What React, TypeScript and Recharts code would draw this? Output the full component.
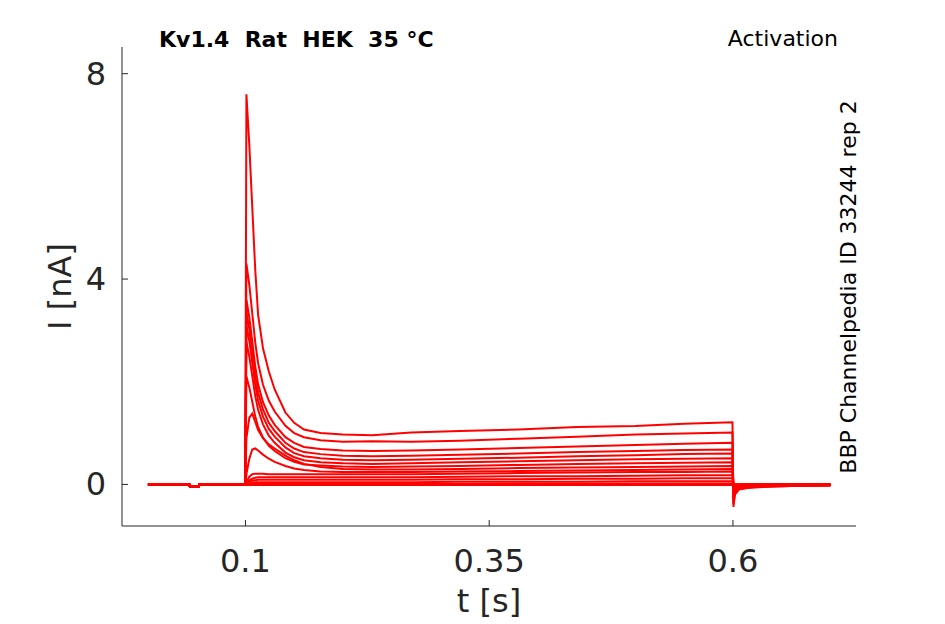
import { LineChart, Line, XAxis, YAxis } from "recharts";

// ── Data ──────────────────────────────────────────────────────────────────────

// sample times [s]; first six points are the holding period before the step
const TIMES = [
  0, 0.0425, 0.043, 0.052, 0.0525, 0.0998,
  0.101, 0.104, 0.107, 0.11, 0.113, 0.118, 0.124, 0.13, 0.141, 0.15, 0.16,
  0.177, 0.2, 0.23, 0.27, 0.32, 0.38, 0.44, 0.5, 0.55, 0.5995,
  0.6005, 0.602, 0.606, 0.615, 0.63, 0.66, 0.7,
];

// current [nA] during the holding period (same for every sweep)
const HOLDING = [0, 0, -0.04, -0.04, 0, 0];

// current [nA] from the step onset (t = 0.101) to the end, one array per sweep
const SWEEP_A = [7.6, 6.6, 5.4, 4.2, 3.3, 2.65, 2.2, 1.85, 1.4, 1.2, 1.07, 1.0, 0.97, 0.96, 1.01, 1.04, 1.07, 1.12, 1.14, 1.18, 1.21, -0.44, -0.2, -0.1, -0.07, -0.05, -0.03, -0.02];
const SWEEP_B = [4.3, 3.88, 3.33, 2.77, 2.36, 1.94, 1.63, 1.42, 1.14, 1.0, 0.92, 0.86, 0.83, 0.84, 0.83, 0.85, 0.89, 0.93, 0.97, 0.99, 1.01, -0.38, -0.18, -0.09, -0.06, -0.04, -0.03, -0.02];
const SWEEP_C = [3.6, 3.25, 2.78, 2.31, 1.95, 1.6, 1.34, 1.16, 0.92, 0.81, 0.73, 0.69, 0.66, 0.65, 0.66, 0.68, 0.71, 0.74, 0.77, 0.79, 0.81, -0.3, -0.15, -0.08, -0.05, -0.04, -0.02, -0.02];
const SWEEP_D = [3.36, 3.02, 2.58, 2.13, 1.79, 1.46, 1.2, 1.04, 0.81, 0.7, 0.63, 0.59, 0.56, 0.55, 0.56, 0.58, 0.6, 0.63, 0.65, 0.67, 0.68, -0.25, -0.12, -0.07, -0.04, -0.03, -0.02, -0.01];
const SWEEP_E = [3.1, 2.79, 2.37, 1.95, 1.63, 1.32, 1.08, 0.93, 0.72, 0.61, 0.55, 0.51, 0.48, 0.47, 0.48, 0.5, 0.52, 0.55, 0.57, 0.59, 0.6, -0.2, -0.1, -0.06, -0.04, -0.03, -0.02, -0.01];
const SWEEP_F = [2.77, 2.49, 2.11, 1.73, 1.45, 1.17, 0.95, 0.81, 0.62, 0.53, 0.47, 0.43, 0.41, 0.4, 0.41, 0.43, 0.45, 0.47, 0.49, 0.5, 0.51, -0.16, -0.08, -0.05, -0.03, -0.02, -0.01, -0.01];
const SWEEP_G = [2.1, 1.89, 1.61, 1.33, 1.12, 0.91, 0.75, 0.65, 0.51, 0.44, 0.39, 0.37, 0.35, 0.34, 0.35, 0.36, 0.38, 0.4, 0.41, 0.42, 0.43, -0.12, -0.06, -0.04, -0.02, -0.02, -0.01, -0.01];
const SWEEP_H = [0.9, 1.3, 1.38, 1.22, 1.06, 0.9, 0.78, 0.7, 0.56, 0.47, 0.4, 0.34, 0.3, 0.29, 0.29, 0.3, 0.32, 0.33, 0.34, 0.35, 0.36, -0.09, -0.05, -0.03, -0.02, -0.01, -0.01, 0];
const SWEEP_I = [0.2, 0.5, 0.68, 0.7, 0.66, 0.58, 0.5, 0.44, 0.36, 0.31, 0.28, 0.25, 0.24, 0.24, 0.24, 0.25, 0.26, 0.27, 0.28, 0.29, 0.3, -0.07, -0.04, -0.02, -0.01, -0.01, 0, 0];
const SWEEP_J = [0.05, 0.15, 0.2, 0.21, 0.21, 0.21, 0.2, 0.2, 0.2, 0.2, 0.2, 0.2, 0.2, 0.2, 0.2, 0.21, 0.22, 0.23, 0.24, 0.24, 0.25, -0.05, -0.03, -0.02, -0.01, 0, 0, 0];
const SWEEP_K = [0.03, 0.08, 0.11, 0.13, 0.14, 0.14, 0.14, 0.14, 0.14, 0.14, 0.14, 0.14, 0.14, 0.14, 0.14, 0.15, 0.16, 0.16, 0.17, 0.18, 0.18, -0.03, -0.02, -0.01, 0, 0, 0, 0];
const SWEEP_L = [0.02, 0.05, 0.07, 0.08, 0.09, 0.09, 0.09, 0.09, 0.09, 0.09, 0.09, 0.09, 0.09, 0.09, 0.09, 0.1, 0.1, 0.11, 0.11, 0.12, 0.12, -0.02, -0.01, 0, 0, 0, 0, 0];
const SWEEP_M = [0.01, 0.02, 0.03, 0.04, 0.04, 0.04, 0.04, 0.04, 0.04, 0.04, 0.04, 0.04, 0.04, 0.04, 0.04, 0.05, 0.05, 0.05, 0.06, 0.06, 0.06, -0.02, -0.01, 0, 0, 0, 0, 0];
const SWEEP_N = [0, 0.01, 0.01, 0.01, 0.01, 0.01, 0.01, 0.01, 0.01, 0.01, 0.01, 0.01, 0.01, 0.01, 0.01, 0.01, 0.02, 0.02, 0.02, 0.02, 0.02, -0.01, 0, 0, 0, 0, 0, 0];
const SWEEP_O = [0, 0, 0, 0, 0, 0, 0, 0, 0, 0, 0, 0, 0, 0, 0, 0, 0, 0, 0, 0, 0, -0.01, 0, 0, 0, 0, 0, 0];
const SWEEP_P = [-0.01, -0.01, -0.01, -0.01, -0.01, -0.01, -0.01, -0.01, -0.01, -0.01, -0.01, -0.01, -0.01, -0.01, -0.01, -0.01, -0.01, -0.01, -0.01, -0.01, -0.01, -0.01, 0, 0, 0, 0, 0, 0];

const SWEEPS = [
  SWEEP_A, SWEEP_B, SWEEP_C, SWEEP_D, SWEEP_E, SWEEP_F, SWEEP_G, SWEEP_H,
  SWEEP_I, SWEEP_J, SWEEP_K, SWEEP_L, SWEEP_M, SWEEP_N, SWEEP_O, SWEEP_P,
];

const X_TICKS = [0.1, 0.35, 0.6];
const Y_TICKS = [0, 4, 8];

// ── Layout / style ───────────────────────────────────────────────────────────

const W = 945;
const H = 624;
const MARGIN = { top: 47, right: 89, left: 0, bottom: 0 };
const Y_AXIS_W = 122;
const X_AXIS_H = 98;
const AXIS_COLOR = "#262626";
const TRACE_COLOR = "#ff0000";
const FONT = "'DejaVu Sans', sans-serif";

const rows = TIMES.map((t, i) => {
  const row: Record<string, number> = { t };
  SWEEPS.forEach((sweep, k) => {
    row[`s${k}`] = i < HOLDING.length ? HOLDING[i] : sweep[i - HOLDING.length];
  });
  return row;
});

// inward ticks, MATLAB style
function XTick({ x, y, payload }: any) {
  return (
    <g>
      <line x1={x} y1={y} x2={x} y2={y - 6} stroke={AXIS_COLOR} strokeWidth={1} />
      <text x={x} y={y + 46} textAnchor="middle" fontSize={32} fill={AXIS_COLOR} fontFamily={FONT}>
        {payload.value}
      </text>
    </g>
  );
}

function YTick({ x, y, payload }: any) {
  return (
    <g>
      <line x1={x} y1={y} x2={x + 6} y2={y} stroke={AXIS_COLOR} strokeWidth={1} />
      <text x={x - 16} y={y + 11} textAnchor="end" fontSize={32} fill={AXIS_COLOR} fontFamily={FONT}>
        {payload.value}
      </text>
    </g>
  );
}

export default function App() {
  return (
    <div style={{ position: "absolute", left: 0, top: 0, width: W, height: H, background: "#fff" }}>
      <LineChart width={W} height={H} data={rows} margin={MARGIN}>
        <XAxis
          dataKey="t"
          type="number"
          domain={[-0.0266, 0.7262]}
          ticks={X_TICKS}
          allowDataOverflow
          height={X_AXIS_H}
          tickSize={0}
          tickMargin={0}
          tickLine={false}
          tick={<XTick />}
          axisLine={{ stroke: AXIS_COLOR, strokeWidth: 1 }}
          label={{
            content: ({ viewBox }: any) => (
              <text
                x={viewBox.x + viewBox.width / 2}
                y={viewBox.y + 86}
                textAnchor="middle"
                fontSize={32}
                fill={AXIS_COLOR}
                fontFamily={FONT}
              >
                t [s]
              </text>
            ),
          }}
        />
        <YAxis
          type="number"
          domain={[-0.81, 8.52]}
          ticks={Y_TICKS}
          allowDataOverflow
          width={Y_AXIS_W}
          tickSize={0}
          tickMargin={0}
          tickLine={false}
          tick={<YTick />}
          axisLine={{ stroke: AXIS_COLOR, strokeWidth: 1 }}
          label={{
            content: ({ viewBox }: any) => {
              const cy = viewBox.y + viewBox.height / 2;
              return (
                <text
                  x={71}
                  y={cy}
                  transform={`rotate(-90, 71, ${cy})`}
                  textAnchor="middle"
                  fontSize={32}
                  fill={AXIS_COLOR}
                  fontFamily={FONT}
                >
                  I [nA]
                </text>
              );
            },
          }}
        />
        {SWEEPS.map((_, k) => (
          <Line
            key={k}
            dataKey={`s${k}`}
            type="linear"
            stroke={TRACE_COLOR}
            strokeWidth={2}
            dot={false}
            activeDot={false}
            isAnimationActive={false}
          />
        ))}
      </LineChart>
      <svg
        width={W}
        height={H}
        style={{ position: "absolute", left: 0, top: 0, pointerEvents: "none" }}
      >
        <text x={159} y={47} fontSize={22} fontWeight="bold" fill="#000" fontFamily={FONT} style={{ whiteSpace: "pre" }}>
          {"Kv1.4  Rat  HEK  35 °C"}
        </text>
        <text x={838} y={46} textAnchor="end" fontSize={22} fill="#000" fontFamily={FONT}>
          Activation
        </text>
        <text
          x={856}
          y={287}
          transform="rotate(-90, 856, 287)"
          textAnchor="middle"
          fontSize={22}
          fill="#000"
          fontFamily={FONT}
        >
          BBP Channelpedia ID 33244 rep 2
        </text>
      </svg>
    </div>
  );
}
